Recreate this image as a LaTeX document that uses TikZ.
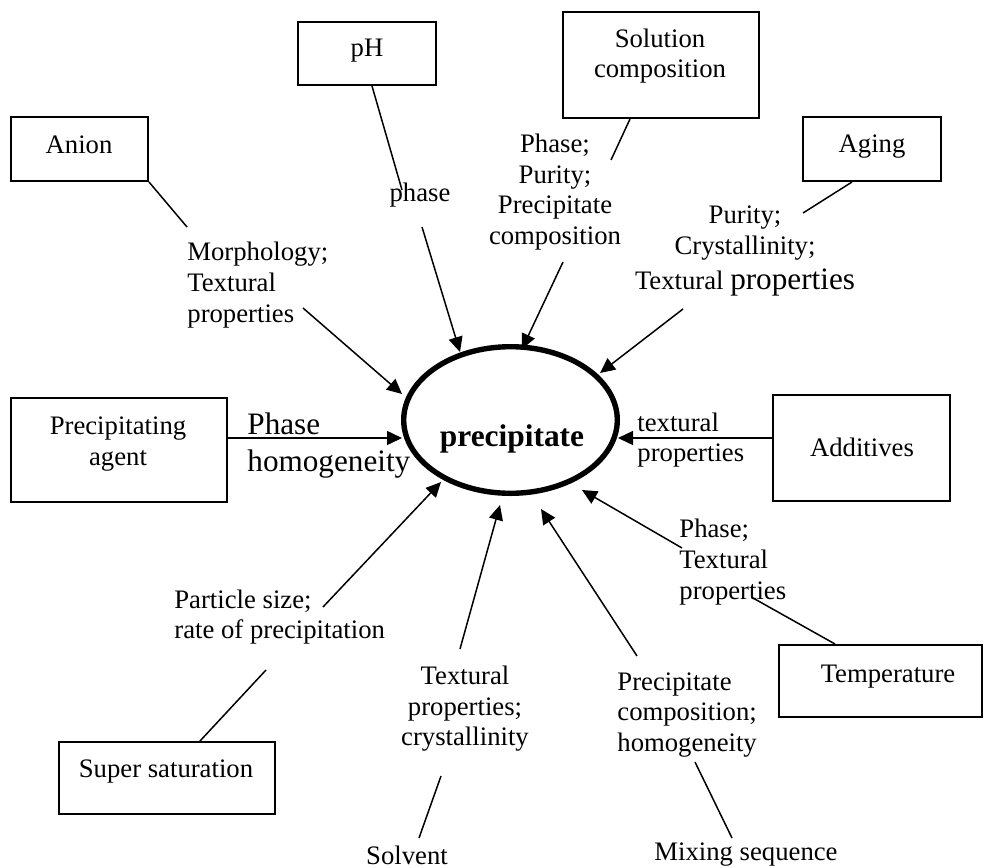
\documentclass[tikz,border=0pt]{standalone}
\usepackage{fontspec}
\setmainfont{Liberation Serif}
\usetikzlibrary{arrows.meta,shapes.geometric}
\begin{document}
\begin{tikzpicture}[x=0.5pt,y=-0.5pt,
  box/.style={draw, line width=1pt, inner sep=0pt},
  txt/.style={inner sep=0pt, font=\fontsize{13.35pt}{15.3pt}\selectfont},
  bigtxt/.style={inner sep=0pt, font=\fontsize{15.6pt}{18.5pt}\selectfont},
  conn/.style={line width=0.75pt},
  arr/.style={line width=0.75pt, -{Triangle[length=7.5pt,width=7pt]}},
  oval/.style={draw, ellipse, line width=2.7pt, inner sep=0pt, minimum width=106.8pt, minimum height=73.3pt}
]
\useasboundingbox (0,0) rectangle (984,867);

% boxes
\node[box, minimum width=69pt,  minimum height=31.5pt] (pH)    at (367,53.5) {};
\node[box, minimum width=98pt,  minimum height=53pt]   (sol)   at (661,65)   {};
\node[box, minimum width=68.5pt,minimum height=32pt]   (anion) at (79.5,149) {};
\node[box, minimum width=69pt,  minimum height=32pt]   (aging) at (872,149)  {};
\node[box, minimum width=108pt, minimum height=52pt]   (agent) at (119,450)  {};
\node[box, minimum width=88.5pt,minimum height=53pt]   (add)   at (861.5,448){};
\node[box, minimum width=101.5pt,minimum height=36pt]  (temp)  at (880.5,681){};
\node[box, minimum width=108pt, minimum height=36pt]   (super) at (167,778)  {};

% box texts
\node[txt] (pHt)    at (367,51)  {pH};
\node[txt, align=center] (solt) at (660,56) {Solution\\composition};
\node[txt] (aniont) at (79,145)  {Anion};
\node[txt] (agingt) at (872,147) {Aging};
\node[txt, align=center] (agentt) at (118,444) {Precipitating\\agent};
\node[txt] (addt)   at (862,447) {Additives};
\node[txt] (tempt)  at (888,677) {Temperature};
\node[txt] (supert) at (166,771) {Super saturation};

% central ellipse
\node[oval] (ell) at (510.5,420) {};
\node[inner sep=0pt, font=\bfseries\fontsize{15.7pt}{18pt}\selectfont] (ellt) at (512,439) {precipitate};

% labels
\node[txt, align=left, anchor=west] (morph) at (187,285) {Morphology;\\Textural\\properties};
\node[txt] (phaseL) at (420,195) {phase};
\node[txt, align=center] (solL) at (555,192) {Phase;\\Purity;\\Precipitate\\composition};
\node[txt, align=center] (agingL) at (745,251) {Purity;\\Crystallinity;\\[2pt]Textural {\fontsize{15.6pt}{18.5pt}\selectfont properties}};
\node[bigtxt, align=left, anchor=west] (agentL) at (247,446) {Phase\\homogeneity};
\node[txt, align=left, anchor=west] (addL) at (637,440) {textural\\properties};
\node[txt, align=left, anchor=west] (tempL) at (679,562) {Phase;\\Textural\\properties};
\node[txt, align=left, anchor=west] (superL) at (174,617) {Particle size;\\rate of precipitation};
\node[txt, align=center] (solvL) at (465,709) {Textural\\properties;\\crystallinity};
\node[txt, align=left, anchor=west] (mixL) at (617,715) {Precipitate\\composition;\\homogeneity};
\node[txt] (solv) at (407,855) {Solvent};
\node[txt] (mix)  at (746,855) {Mixing sequence};

% coordinates
\coordinate (a1) at (187,227);  \coordinate (a2) at (303,308);  \coordinate (e1) at (402,394);
\coordinate (b1) at (402,190);  \coordinate (b2) at (422,227);  \coordinate (e2) at (460,352);
\coordinate (c1) at (611,160);  \coordinate (c2) at (563,262);  \coordinate (e3) at (522,349);
\coordinate (d1) at (803,213);  \coordinate (d2) at (683,309);  \coordinate (e4) at (600,373);
\coordinate (e5) at (402,438);  \coordinate (e6) at (618,438);
\coordinate (g1) at (753,598);  \coordinate (g2) at (682,548);  \coordinate (e7) at (582,490);
\coordinate (h1) at (732,838);  \coordinate (h2) at (695,762);  \coordinate (h3) at (637,656); \coordinate (e8) at (541,509);
\coordinate (i1) at (419,838);  \coordinate (i2) at (441,776);  \coordinate (i3) at (460,649); \coordinate (e9) at (500,505);
\coordinate (j1) at (266,670);  \coordinate (j2) at (323,607);  \coordinate (e10) at (441,482);

% connectors
\draw[conn] (anion.south east) -- (a1);
\draw[arr] (a2) -- (e1);
\draw[conn] ([xshift=2.5pt]pH.south) -- (b1);
\draw[arr] (b2) -- (e2);
\draw[conn] ([xshift=-15.5pt]sol.south) -- (c1);
\draw[arr] (c2) -- (e3);
\draw[conn] ([xshift=-10pt]aging.south) -- (d1);
\draw[arr] (d2) -- (e4);
\draw[arr] (agent.east |- e5) -- (e5);
\draw[arr] (add.west |- e6) -- (e6);
\draw[conn] ([xshift=-22.75pt]temp.north) -- (g1);
\draw[arr] (g2) -- (e7);
\draw[conn] (h1) -- (h2);
\draw[arr] (h3) -- (e8);
\draw[conn] (i1) -- (i2);
\draw[arr] (i3) -- (e9);
\draw[conn] ([xshift=16.5pt]super.north) -- (j1);
\draw[arr] (j2) -- (e10);
\end{tikzpicture}
\end{document}
